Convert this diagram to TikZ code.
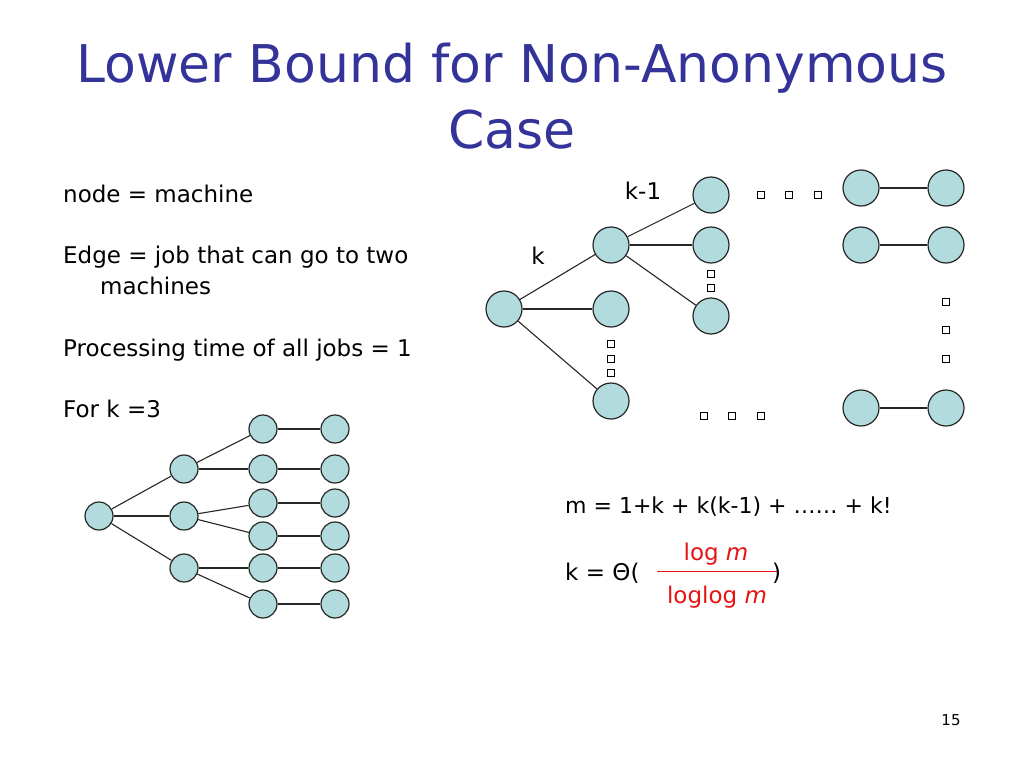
\documentclass[tikz,border=0pt]{standalone}
\usepackage{fontspec}
\setmainfont{DejaVu Sans}
\definecolor{nodeblue}{RGB}{178,219,222}
\definecolor{titleblue}{RGB}{51,51,153}
\definecolor{fracred}{RGB}{230,20,20}
\begin{document}
\begin{tikzpicture}[x=1pt,y=-1pt,
  mach/.style={circle,draw=black!85,line width=1.2pt,fill=nodeblue,minimum size=36pt,inner sep=0pt},
  smach/.style={mach,minimum size=28pt},
  dotbox/.style={rectangle,draw=black,line width=0.8pt,fill=white,minimum size=6.5pt,inner sep=0pt},
  edge/.style={draw=black!85,line width=1.1pt},
  body/.style={anchor=base west,inner sep=0pt,font=\fontsize{23}{27}\selectfont},
  formula/.style={anchor=base west,inner sep=0pt,font=\fontsize{22}{26}\selectfont},
  titletext/.style={anchor=base,inner sep=0pt,text=titleblue,font=\fontsize{52}{60}\selectfont},
  redtext/.style={anchor=base,inner sep=0pt,text=fracred,font=\fontsize{23}{27}\selectfont}]
\useasboundingbox (0,0) rectangle (1024,768);
\fill[white] (0,0) rectangle (1024,768);

% title
\node[titletext] (t1) at (512,82) {Lower Bound for Non-Anonymous};
\node[titletext] (t2) at (512,148) {Case};

% left text
\node[body] (l1) at (63,202) {node = machine};
\node[body] (l2) at (63,263) {Edge = job that can go to two};
\node[body] (l3) at (100,294) {machines};
\node[body] (l4) at (63,356) {Processing time of all jobs = 1};
\node[body] (l5) at (63,417) {For k =3};

% top right general tree
\node[mach] (r0) at (504,309) {};
\node[mach] (a1) at (611,245) {};
\node[mach] (a2) at (611,309) {};
\node[mach] (a3) at (611,401) {};
\node[mach] (b1) at (711,195) {};
\node[mach] (b2) at (711,245) {};
\node[mach] (b3) at (711,316) {};
\node[mach] (c1) at (861,188) {};
\node[mach] (d1) at (946,188) {};
\node[mach] (c2) at (861,245) {};
\node[mach] (d2) at (946,245) {};
\node[mach] (c3) at (861,408) {};
\node[mach] (d3) at (946,408) {};
\draw[edge] (r0) -- (a1);
\draw[edge] (r0) -- (a2);
\draw[edge] (r0) -- (a3);
\draw[edge] (a1) -- (b1);
\draw[edge] (a1) -- (b2);
\draw[edge] (a1) -- (b3);
\draw[edge] (c1) -- (d1);
\draw[edge] (c2) -- (d2);
\draw[edge] (c3) -- (d3);

\node[anchor=center,inner sep=0pt,font=\fontsize{23}{27}\selectfont] (lk1) at (643,191) {k-1};
\node[anchor=center,inner sep=0pt,font=\fontsize{23}{27}\selectfont] (lk) at (538,256) {k};

% ellipsis boxes
\foreach \x [count=\i] in {761,789,818} \node[dotbox] (h\i) at (\x,195) {};
\foreach \y [count=\i] in {274,288} \node[dotbox] (v\i) at (711,\y) {};
\foreach \y [count=\i] in {344,359,373} \node[dotbox] (w\i) at (611,\y) {};
\foreach \y [count=\i] in {302,330,359} \node[dotbox] (s\i) at (946,\y) {};
\foreach \x [count=\i] in {704,732,761} \node[dotbox] (g\i) at (\x,416) {};

% bottom-left tree for k=3
\node[smach] (p0) at (99,516) {};
\node[smach] (q1) at (184,469) {};
\node[smach] (q2) at (184,516) {};
\node[smach] (q3) at (184,568) {};
\foreach \y [count=\i] in {429,469,503,536,568,604} {
  \node[smach] (u\i) at (263,\y) {};
  \node[smach] (z\i) at (335,\y) {};
  \draw[edge] (u\i) -- (z\i);
}
\draw[edge] (p0) -- (q1);
\draw[edge] (p0) -- (q2);
\draw[edge] (p0) -- (q3);
\draw[edge] (q1) -- (u1);
\draw[edge] (q1) -- (u2);
\draw[edge] (q2) -- (u3);
\draw[edge] (q2) -- (u4);
\draw[edge] (q3) -- (u5);
\draw[edge] (q3) -- (u6);

% formulas
\node[formula] (f1) at (565,513) {m = 1+k + k(k-1) + …… + k!};
\node[body] (f2) at (565,580) {k = Θ(};
\node[redtext] (fn) at (716,560) {log \textit{m}};
\node[redtext] (fd) at (717,603) {loglog \textit{m}};
\coordinate (fl1) at (657,571);
\coordinate (fl2) at (777,571);
\draw[draw=fracred,line width=0.8pt] (fl1) -- (fl2);
\node[body] (f3) at (772,580) {)};

% page number
\node[anchor=base,inner sep=0pt,font=\fontsize{15}{18}\selectfont] (pg) at (951,725) {15};
\end{tikzpicture}
\end{document}
